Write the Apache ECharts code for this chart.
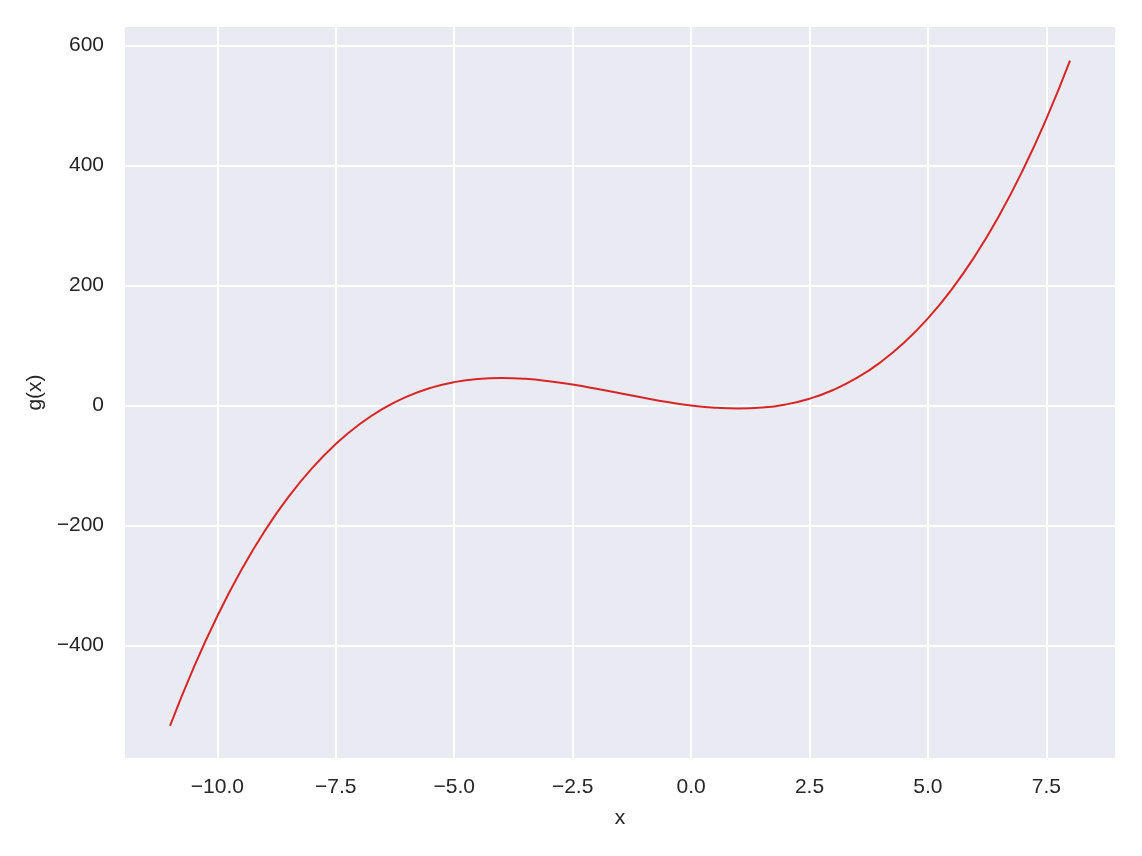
<!DOCTYPE html>
<html>
<head>
<meta charset="utf-8">
<script src="https://cdn.jsdelivr.net/npm/echarts@6/dist/echarts.min.js"></script>
<style>
  html, body { margin: 0; padding: 0; background: #fff; }
  #chart { width: 1142px; height: 856px; }
</style>
</head>
<body>
<div id="chart"></div>
<script>
// values
const xValues = [-11, -10.5, -10, -9.5, -9, -8.5, -8, -7.5, -7, -6.5, -6, -5.5, -5, -4.5, -4, -3.5, -3, -2.5, -2, -1.5, -1, -0.5,
  0, 0.5, 1, 1.5, 2, 2.5, 3, 3.5, 4, 4.5, 5, 5.5, 6, 6.5, 7, 7.5, 8];
const gValues = [-534.5, -437.3, -351.2, -275.4, -209.5, -152.7, -104.5, -64.3, -31.4, -5.3, 14.7, 29.2, 38.8, 44.1, 45.7, 44.3,
  40.4, 34.7, 27.8, 20.2, 12.7, 5.7, 0, -3.9, -5.3, -3.7, 1.6, 11.2, 25.7, 45.7, 71.9, 104.7, 145.0, 193.2, 249.9, 315.9,
  391.6, 477.7, 574.9];
const xTicks = [-10, -7.5, -5, -2.5, 0, 2.5, 5, 7.5];
const yTicks = [-400, -200, 0, 200, 400, 600];

const minus = v => (v < 0 ? "\u2212" : "");
const textColor = "#262626";
const font = "Liberation Sans, DejaVu Sans, sans-serif";

const chart = echarts.init(document.getElementById("chart"));
const option = {
  animation: false,
  grid: {
    left: 125,
    right: 27,
    top: 27,
    bottom: 98,
    show: true,
    backgroundColor: "#eaeaf2",
    borderWidth: 0
  },
  xAxis: {
    type: "value",
    min: -11.95,
    max: 8.95,
    name: "x",
    nameLocation: "middle",
    nameGap: 50,
    nameTextStyle: { color: textColor, fontSize: 21, fontFamily: font },
    axisLine: { show: false },
    axisTick: { show: false, customValues: xTicks },
    axisLabel: {
      customValues: xTicks,
      color: textColor,
      fontSize: 21,
      fontFamily: font,
      margin: 19,
      formatter: v => minus(v) + Math.abs(v).toFixed(1)
    },
    splitLine: { show: true, lineStyle: { color: "#ffffff", width: 2 } }
  },
  yAxis: {
    type: "value",
    min: -588,
    max: 631,
    name: "g(x)",
    nameLocation: "middle",
    nameGap: 78,
    nameRotate: 90,
    nameTextStyle: { color: textColor, fontSize: 21, fontFamily: font },
    axisLine: { show: false },
    axisTick: { show: false, customValues: yTicks },
    axisLabel: {
      customValues: yTicks,
      color: textColor,
      fontSize: 21,
      fontFamily: font,
      margin: 21,
      formatter: v => minus(v) + Math.abs(v)
    },
    splitLine: { show: true, lineStyle: { color: "#ffffff", width: 2 } }
  },
  series: [
    {
      type: "line",
      data: xValues.map((x, i) => [x, gValues[i]]),
      smooth: true,
      showSymbol: false,
      lineStyle: { color: "#d62728", width: 2 }
    }
  ]
};
chart.setOption(option);
</script>
</body>
</html>
